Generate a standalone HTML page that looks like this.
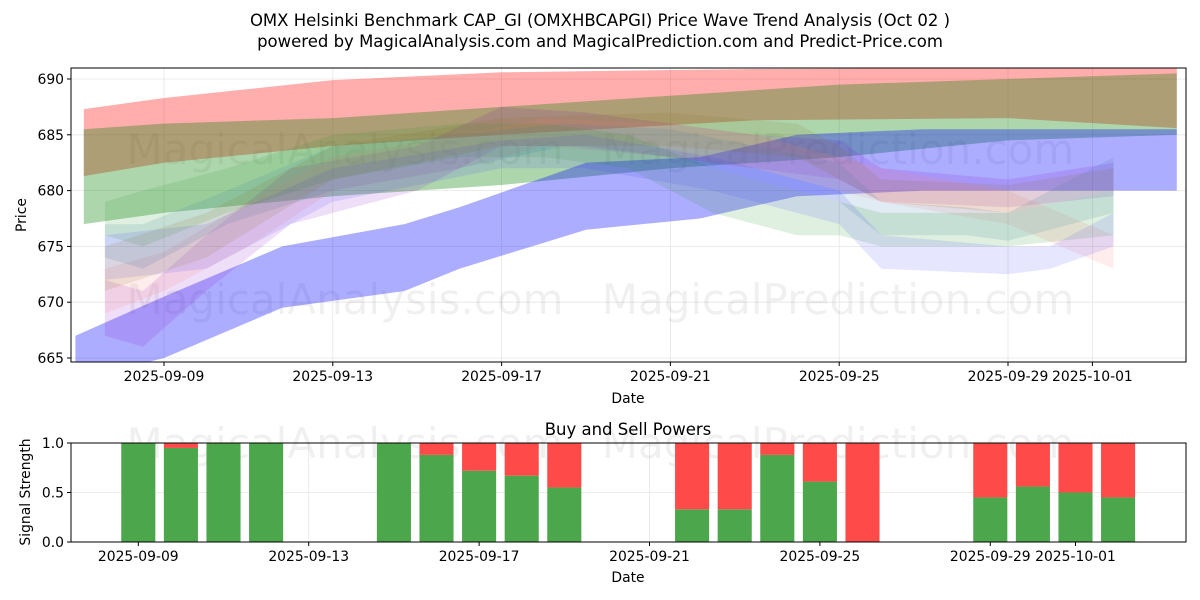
<!DOCTYPE html>
<html><head><meta charset="utf-8"><style>
body{margin:0;background:#fff;}
svg{display:block;font-family:"DejaVu Sans","Liberation Sans",sans-serif;}
</style></head><body>
<svg id="c" width="1200" height="600" viewBox="0 0 1200 600">
<rect width="1200" height="600" fill="#fff"/>
<text x="600" y="26" font-size="16.5" text-anchor="middle">OMX Helsinki Benchmark CAP_GI (OMXHBCAPGI) Price Wave Trend Analysis (Oct 02 )</text>
<text x="600" y="47" font-size="16.5" text-anchor="middle">powered by MagicalAnalysis.com and MagicalPrediction.com and Predict-Price.com</text>
<g id="topPanel"></g>
<g id="botPanel"></g>
</svg>
<script>
const priceTicks=[665,670,675,680,685,690];
const dateTickDays=[0,4,8,12,16,20,22];
const dateTickLabels=["2025-09-09","2025-09-13","2025-09-17","2025-09-21","2025-09-25","2025-09-29","2025-10-01"];
const bandColors=["#ff0000","#008000","#0000ff","#8000c0","#ff8080","#4682b4","#2e9a2e","#4040ff","#8b6914"];
const bandAlphas=[0.32,0.32,0.32,0.13,0.15,0.16,0.15,0.13,0.13];
const bandDays=[
[-1.9,0,4,8,14,20,24],
[-1.9,0,4,8,12,16,20,24],
[-2.1,0,2.8,5.7,7,10,12.7,15,18,24],
[-1.4,-0.5,1,3,6,8,10,12,14,16,17,20,22.5],
[-1.4,0,2,4,7,9,12,14,16,17,20,22.5],
[-1.4,-0.5,1.5,4,7,9.5,12,14,16,17,19,20,21.5,22.5],
[-1.4,-0.5,1.5,4,7,9,11,13,15,16,17,20,22.5],
[-1.4,1,4,8,10,13,16,17,20,21,22.5],
[-1.4,1,4,8,12,15,16,17,20,22.5]];
const bandLower=[
[681.3,682.5,684,685,686.3,686.5,685.6],
[677,678,679.5,680.5,682,683,684.5,685],
[663,665,669.5,671,673,676.5,677.5,679.5,680,680],
[667,666,671,677,680,684,684,683,682,681,679,678.5,679.5],
[669,671,675,680,682,684,683,682,680,679,677,673],
[674,673,677,680,682,684,683,681,679,676,676,675.5,677,678],
[676,675,678,681,683,683,682,678,676,676,675,675,676],
[672,673,679,682,682,680,677,673,672.5,673,675],
[671,674,681,684,684,683,681,679,678,680]];
const bandUpper=[
[687.3,688.3,689.9,690.6,690.9,691,691],
[685.5,686,686.5,687.5,688.5,689.5,690,690.5],
[667,670.5,675,677,678.5,682.5,683,685,685.5,685.5],
[672,671,676,682,684,687.5,687,686,685,684.5,682,681,682.5],
[673,674.5,679,683,685,686.5,686,685,683,682,680,676],
[677,677,680,684,685,686,685.5,684,682.5,679,678.5,678,681,683],
[679,680,682,685,686,686,685,682,680,679,678,678,680],
[676,677,682,684.5,685,683,680,676,675,675,678],
[675,678,684,686.5,687,686,684,681,680.5,682]];
const barDays=[0,1,2,3,6,7,8,9,10,13,14,15,16,17,20,21,22,23];
const buyValues=[1,0.95,1,1,1,0.88,0.72,0.67,0.55,0.33,0.33,0.88,0.61,0,0.45,0.56,0.5,0.45];
const sigTicks=[0,0.5,1.0];
const sigTickLabels=["0.0","0.5","1.0"];

const NS="http://www.w3.org/2000/svg";
const FS=13.9;
function mk(p,tag,attrs,txt){const e=document.createElementNS(NS,tag);for(const k in attrs)e.setAttribute(k,attrs[k]);if(txt!==undefined)e.textContent=txt;p.appendChild(e);return e;}
const L=71,R=1186;
const T1=68,B1=362;
const xT=d=>164+42.2*d;
const yT=v=>79+(690-v)*(279/25);
const T2=443,B2=542;
const xB=d=>138.3+42.6*d;
const yB=v=>B2-v*(B2-T2);

const topG=document.getElementById('topPanel');
priceTicks.forEach(v=>{const g=mk(topG,'line',{x1:L,x2:R,y1:yT(v),y2:yT(v),stroke:'#e6e6e6','stroke-width':0.8});

});
dateTickDays.forEach(d=>{const g=mk(topG,'line',{x1:xT(d),x2:xT(d),y1:T1,y2:B1,stroke:'#e6e6e6','stroke-width':0.8});

});
[[345,150,'MagicalAnalysis.com'],[838,150,'MagicalPrediction.com'],[345,300,'MagicalAnalysis.com'],[838,300,'MagicalPrediction.com']].forEach(w=>{
const t=mk(topG,'text',{x:w[0],y:w[1]+14,'font-size':42,'text-anchor':'middle',fill:'#000','fill-opacity':0.06},w[2]);

});
const clipD=mk(topG,'clipPath',{id:'cp1'});mk(clipD,'rect',{x:L,y:T1,width:R-L,height:B1-T1});
bandDays.forEach((days,i)=>{
  let pts=days.map((d,j)=>xT(d).toFixed(1)+','+yT(bandUpper[i][j]).toFixed(1));
  for(let j=days.length-1;j>=0;j--)pts.push(xT(days[j]).toFixed(1)+','+yT(bandLower[i][j]).toFixed(1));
  const p=mk(topG,'polygon',{points:pts.join(' '),fill:bandColors[i],'fill-opacity':bandAlphas[i],'clip-path':'url(#cp1)'});
  
  
});
const f1=mk(topG,'rect',{x:L,y:T1,width:R-L,height:B1-T1,fill:'none',stroke:'#000','stroke-width':1});


priceTicks.forEach(v=>{mk(topG,'line',{x1:L-4,x2:L,y1:yT(v),y2:yT(v),stroke:'#000'});
const t=mk(topG,'text',{x:L-7,y:yT(v)+5,'font-size':FS,'text-anchor':'end'},String(v));

});
dateTickDays.forEach((d,i)=>{mk(topG,'line',{x1:xT(d),x2:xT(d),y1:B1,y2:B1+4,stroke:'#000'});
const t=mk(topG,'text',{x:xT(d),y:B1+19,'font-size':FS,'text-anchor':'middle'},dateTickLabels[i]);

});
const xl=mk(topG,'text',{x:628,y:403,'font-size':FS,'text-anchor':'middle'},'Date');


const yl=mk(topG,'text',{x:26,y:215,'font-size':FS,'text-anchor':'middle',transform:'rotate(-90 26 215)'},'Price');



const botG=document.getElementById('botPanel');
const bt=mk(botG,'text',{x:628,y:435,'font-size':16.5,'text-anchor':'middle'},'Buy and Sell Powers');


sigTicks.forEach(v=>{const g=mk(botG,'line',{x1:L,x2:R,y1:yB(v),y2:yB(v),stroke:'#e6e6e6','stroke-width':0.8});

});
dateTickDays.forEach(d=>{const g=mk(botG,'line',{x1:xB(d),x2:xB(d),y1:T2,y2:B2,stroke:'#e6e6e6','stroke-width':0.8});

});
[[345,'MagicalAnalysis.com'],[838,'MagicalPrediction.com']].forEach(w=>{
const t=mk(botG,'text',{x:w[0],y:458,'font-size':42,'text-anchor':'middle',fill:'#000','fill-opacity':0.06},w[1]);

});
const bw=0.8*42.6;
barDays.forEach((d,i)=>{
  const x=xB(d)-bw/2,b=buyValues[i];
  const g=mk(botG,'rect',{x:x,y:yB(b),width:bw,height:yB(0)-yB(b),fill:'#4ca64c'});
  
  
  const r=mk(botG,'rect',{x:x,y:yB(1),width:bw,height:yB(b)-yB(1),fill:'#ff4a4a'});
  
  
});
const f2=mk(botG,'rect',{x:L,y:T2,width:R-L,height:B2-T2,fill:'none',stroke:'#000','stroke-width':1});


sigTicks.forEach((v,i)=>{mk(botG,'line',{x1:L-4,x2:L,y1:yB(v),y2:yB(v),stroke:'#000'});
const t=mk(botG,'text',{x:L-7,y:yB(v)+5,'font-size':FS,'text-anchor':'end'},sigTickLabels[i]);

});
dateTickDays.forEach((d,i)=>{mk(botG,'line',{x1:xB(d),x2:xB(d),y1:B2,y2:B2+4,stroke:'#000'});
const t=mk(botG,'text',{x:xB(d),y:B2+19,'font-size':FS,'text-anchor':'middle'},dateTickLabels[i]);

});
const xl2=mk(botG,'text',{x:628,y:582,'font-size':FS,'text-anchor':'middle'},'Date');


const yl2=mk(botG,'text',{x:30,y:492,'font-size':FS,'text-anchor':'middle',transform:'rotate(-90 30 492)'},'Signal Strength');


</script>
</body></html>
